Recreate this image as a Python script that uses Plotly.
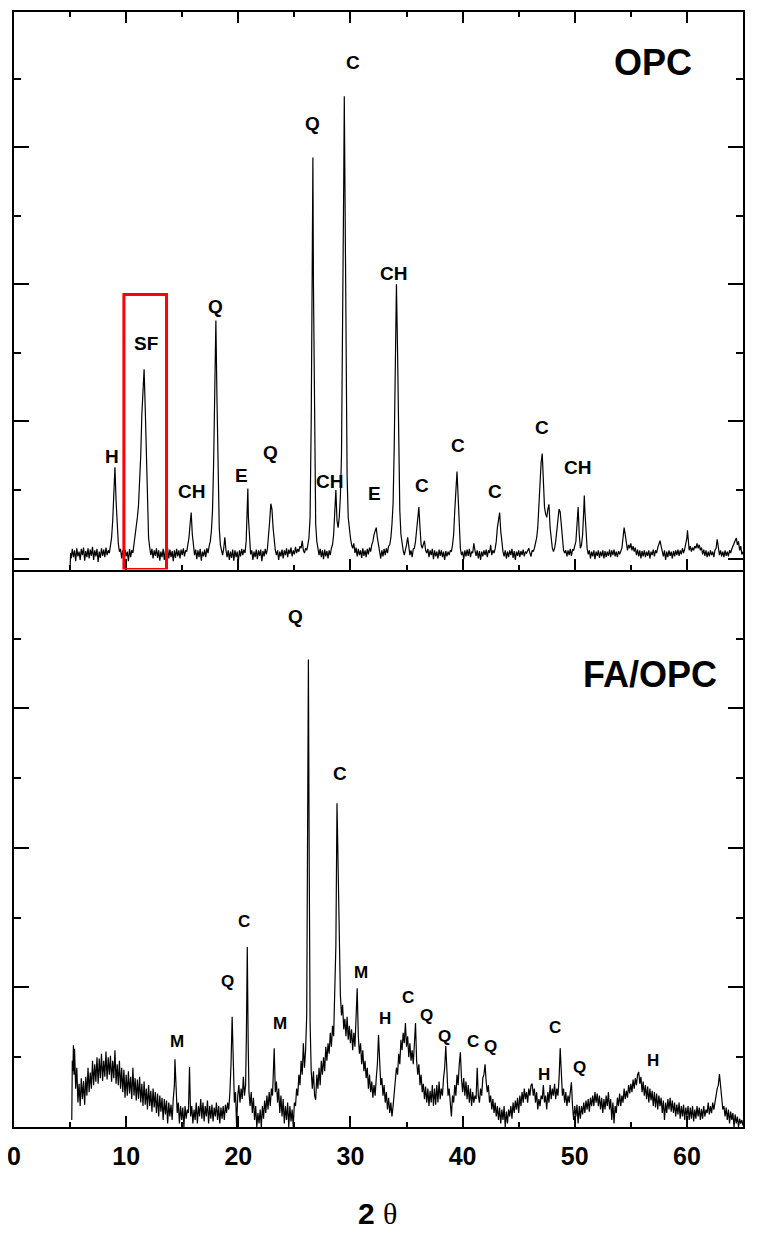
import plotly.graph_objects as go
from plotly.subplots import make_subplots

# OPC scan, (2theta, intensity in arbitrary units)
opc_scan = [
    (5.0, -0.13), (5.05, 0.08), (5.1, 0.0), (5.2, 0.14), (5.3, 0.02), (5.4, 0.12), (5.5, -0.04),
    (5.6, 0.15), (5.7, 0.03), (5.8, 0.1), (5.9, -0.02), (6.0, 0.14), (6.1, 0.05), (6.2, 0.16),
    (6.3, -0.03), (6.4, 0.11), (6.5, 0.02), (6.6, 0.15), (6.7, 0.0), (6.8, 0.13), (6.9, 0.04),
    (7.0, 0.17), (7.1, -0.02), (7.2, 0.12), (7.3, 0.03), (7.4, 0.14), (7.5, -0.05), (7.6, 0.1),
    (7.7, 0.01), (7.8, 0.15), (7.9, 0.04), (8.0, 0.13), (8.1, 0.02), (8.2, 0.16), (8.3, 0.05),
    (8.4, 0.12), (8.5, 0.08), (8.6, 0.2), (8.7, 0.3), (8.8, 0.55), (8.9, 0.9), (9.0, 1.33),
    (9.1, 0.85), (9.2, 0.4), (9.3, 0.22), (9.4, 0.1), (9.5, 0.14), (9.6, 0.0), (9.7, 0.12),
    (9.8, -0.02), (9.9, 0.13), (10.0, 0.03), (10.1, 0.1), (10.2, -0.04), (10.3, 0.14), (10.4, 0.02),
    (10.5, 0.12), (10.6, 0.08), (10.7, 0.2), (10.8, 0.3), (10.9, 0.45), (11.0, 0.6), (11.1, 0.77),
    (11.2, 1.1), (11.3, 1.5), (11.4, 2.1), (11.5, 2.5), (11.6, 2.76), (11.7, 2.2), (11.8, 1.4),
    (11.9, 0.7), (12.0, 0.3), (12.1, 0.16), (12.2, 0.05), (12.3, 0.14), (12.4, 0.0), (12.5, 0.12),
    (12.6, 0.04), (12.7, 0.15), (12.8, 0.01), (12.9, 0.12), (13.0, -0.03), (13.1, 0.1), (13.2, 0.02),
    (13.3, 0.14), (13.4, -0.02), (13.5, 0.12), (13.6, 0.03), (13.7, 0.15), (13.8, 0.0), (13.9, 0.13),
    (14.0, 0.02), (14.1, 0.11), (14.2, -0.04), (14.3, 0.12), (14.4, 0.01), (14.5, 0.14), (14.6, 0.03),
    (14.7, 0.12), (14.8, 0.0), (14.9, 0.13), (15.0, 0.05), (15.1, 0.15), (15.2, 0.03), (15.3, 0.12),
    (15.4, 0.1), (15.5, 0.2), (15.6, 0.3), (15.7, 0.5), (15.8, 0.67), (15.9, 0.35), (16.0, 0.15),
    (16.1, 0.05), (16.2, 0.13), (16.3, -0.01), (16.4, 0.12), (16.5, 0.02), (16.6, 0.14), (16.7, -0.03),
    (16.8, 0.1), (16.9, 0.03), (17.0, 0.13), (17.1, 0.02), (17.2, 0.15), (17.3, 0.08), (17.4, 0.18),
    (17.5, 0.25), (17.6, 0.4), (17.7, 0.7), (17.8, 1.4), (17.9, 2.4), (18.0, 3.47), (18.1, 2.3),
    (18.2, 1.1), (18.3, 0.45), (18.4, 0.2), (18.5, 0.12), (18.6, 0.05), (18.7, 0.15), (18.8, 0.31),
    (18.9, 0.12), (19.0, 0.02), (19.1, 0.12), (19.2, -0.02), (19.3, 0.1), (19.4, 0.01), (19.5, 0.13),
    (19.6, -0.03), (19.7, 0.12), (19.8, 0.02), (19.9, 0.1), (20.0, -0.05), (20.1, 0.12), (20.2, 0.03),
    (20.3, 0.14), (20.4, 0.05), (20.5, 0.13), (20.6, 0.08), (20.7, 0.25), (20.8, 0.7), (20.85, 1.02),
    (20.9, 0.6), (21.0, 0.25), (21.1, 0.06), (21.2, 0.12), (21.3, -0.02), (21.4, 0.1), (21.5, 0.02),
    (21.6, 0.13), (21.7, -0.01), (21.8, 0.12), (21.9, 0.04), (22.0, 0.13), (22.1, -0.04), (22.2, 0.11),
    (22.3, 0.03), (22.4, 0.14), (22.5, 0.06), (22.6, 0.15), (22.7, 0.3), (22.8, 0.55), (22.9, 0.8),
    (23.0, 0.72), (23.1, 0.45), (23.2, 0.25), (23.3, 0.12), (23.4, 0.05), (23.5, 0.12), (23.6, -0.02),
    (23.7, 0.1), (23.8, 0.03), (23.9, 0.13), (24.0, 0.0), (24.1, 0.12), (24.2, 0.05), (24.3, 0.15),
    (24.4, 0.02), (24.5, 0.13), (24.6, 0.07), (24.7, 0.16), (24.8, 0.03), (24.9, 0.12), (25.0, 0.06),
    (25.1, 0.17), (25.2, 0.08), (25.3, 0.14), (25.4, 0.1), (25.5, 0.18), (25.6, 0.15), (25.7, 0.26),
    (25.8, 0.12), (25.9, 0.08), (26.0, 0.15), (26.1, 0.12), (26.2, 0.2), (26.3, 0.3), (26.4, 0.6),
    (26.5, 2.0), (26.6, 4.5), (26.65, 5.85), (26.7, 4.0), (26.8, 1.5), (26.9, 0.5), (27.0, 0.25),
    (27.1, 0.12), (27.2, 0.05), (27.3, 0.14), (27.4, 0.02), (27.5, 0.12), (27.6, -0.01), (27.7, 0.13),
    (27.8, 0.03), (27.9, 0.11), (28.0, 0.0), (28.1, 0.12), (28.2, 0.05), (28.3, 0.15), (28.4, 0.2),
    (28.5, 0.35), (28.6, 0.6), (28.7, 1.0), (28.8, 0.55), (28.9, 0.45), (29.0, 0.6), (29.1, 0.9),
    (29.2, 1.5), (29.3, 3.0), (29.4, 5.5), (29.45, 6.74), (29.5, 5.8), (29.6, 3.0), (29.7, 1.2),
    (29.8, 0.6), (29.9, 0.4), (30.0, 0.3), (30.1, 0.2), (30.2, 0.15), (30.3, 0.22), (30.4, 0.08),
    (30.5, 0.16), (30.6, 0.03), (30.7, 0.14), (30.8, 0.05), (30.9, 0.12), (31.0, 0.01), (31.1, 0.15),
    (31.2, 0.04), (31.3, 0.12), (31.4, 0.02), (31.5, 0.14), (31.6, 0.06), (31.7, 0.16), (31.8, 0.1),
    (31.9, 0.2), (32.0, 0.25), (32.1, 0.35), (32.2, 0.4), (32.3, 0.45), (32.4, 0.3), (32.5, 0.15),
    (32.6, 0.1), (32.7, 0.0), (32.8, 0.12), (32.9, 0.03), (33.0, 0.14), (33.1, 0.05), (33.2, 0.15),
    (33.3, 0.08), (33.4, 0.18), (33.5, 0.2), (33.6, 0.3), (33.7, 0.5), (33.8, 0.8), (33.9, 1.6),
    (34.0, 2.8), (34.1, 4.0), (34.2, 3.0), (34.3, 1.6), (34.4, 0.7), (34.5, 0.35), (34.6, 0.2),
    (34.7, 0.12), (34.8, 0.05), (34.9, 0.12), (35.0, 0.2), (35.1, 0.31), (35.2, 0.15), (35.3, 0.05),
    (35.4, 0.12), (35.5, 0.02), (35.6, 0.14), (35.7, 0.15), (35.8, 0.25), (35.9, 0.4), (36.0, 0.6),
    (36.1, 0.75), (36.2, 0.45), (36.3, 0.2), (36.4, 0.15), (36.5, 0.2), (36.6, 0.26), (36.7, 0.12),
    (36.8, 0.08), (36.9, 0.14), (37.0, 0.02), (37.1, 0.12), (37.2, 0.05), (37.3, 0.14), (37.4, -0.01),
    (37.5, 0.12), (37.6, 0.03), (37.7, 0.1), (37.8, 0.0), (37.9, 0.13), (38.0, 0.04), (38.1, 0.12),
    (38.2, 0.02), (38.3, 0.1), (38.4, -0.02), (38.5, 0.11), (38.6, 0.03), (38.7, 0.1), (38.8, 0.05),
    (38.9, 0.12), (39.0, 0.1), (39.1, 0.2), (39.2, 0.35), (39.3, 0.7), (39.4, 1.1), (39.5, 1.27),
    (39.6, 0.9), (39.7, 0.4), (39.8, 0.15), (39.9, 0.05), (40.0, 0.1), (40.1, -0.01), (40.2, 0.12),
    (40.3, 0.03), (40.4, 0.13), (40.5, 0.04), (40.6, 0.14), (40.7, 0.02), (40.8, 0.1), (40.9, 0.08),
    (41.0, 0.22), (41.1, 0.12), (41.2, 0.04), (41.3, 0.12), (41.4, 0.0), (41.5, 0.11), (41.6, -0.02),
    (41.7, 0.1), (41.8, 0.03), (41.9, 0.12), (42.0, 0.05), (42.1, 0.13), (42.2, 0.02), (42.3, 0.12),
    (42.4, 0.08), (42.5, 0.2), (42.6, 0.05), (42.7, 0.12), (42.8, 0.08), (42.9, 0.14), (43.0, 0.25),
    (43.1, 0.45), (43.2, 0.6), (43.3, 0.67), (43.4, 0.4), (43.5, 0.2), (43.6, 0.1), (43.7, 0.03),
    (43.8, 0.12), (43.9, 0.0), (44.0, 0.1), (44.1, 0.02), (44.2, 0.12), (44.3, 0.05), (44.4, 0.14),
    (44.5, 0.01), (44.6, 0.11), (44.7, -0.02), (44.8, 0.1), (44.9, 0.04), (45.0, 0.12), (45.1, 0.02),
    (45.2, 0.11), (45.3, 0.05), (45.4, 0.13), (45.5, 0.03), (45.6, 0.1), (45.7, 0.08), (45.8, 0.12),
    (45.9, 0.15), (46.0, 0.08), (46.1, 0.03), (46.2, 0.12), (46.3, 0.1), (46.4, 0.15), (46.5, 0.22),
    (46.6, 0.3), (46.7, 0.45), (46.8, 0.8), (46.9, 1.1), (47.0, 1.4), (47.1, 1.53), (47.2, 1.1),
    (47.3, 0.75), (47.4, 0.65), (47.5, 0.6), (47.6, 0.72), (47.7, 0.79), (47.8, 0.45), (47.9, 0.25),
    (48.0, 0.15), (48.1, 0.1), (48.2, 0.15), (48.3, 0.25), (48.4, 0.4), (48.5, 0.6), (48.6, 0.72),
    (48.7, 0.68), (48.8, 0.45), (48.9, 0.25), (49.0, 0.12), (49.1, 0.08), (49.2, 0.12), (49.3, 0.03),
    (49.4, 0.12), (49.5, 0.05), (49.6, 0.14), (49.7, 0.04), (49.8, 0.13), (49.9, 0.12), (50.0, 0.2),
    (50.1, 0.25), (50.2, 0.5), (50.3, 0.75), (50.4, 0.35), (50.5, 0.15), (50.6, 0.2), (50.7, 0.35),
    (50.8, 0.7), (50.85, 0.92), (50.9, 0.7), (51.0, 0.35), (51.1, 0.15), (51.2, 0.06), (51.3, 0.12),
    (51.4, 0.0), (51.5, 0.1), (51.6, 0.03), (51.7, 0.12), (51.8, -0.01), (51.9, 0.1), (52.0, 0.04),
    (52.1, 0.12), (52.2, 0.01), (52.3, 0.1), (52.4, 0.03), (52.5, 0.12), (52.6, 0.0), (52.7, 0.11),
    (52.8, 0.02), (52.9, 0.1), (53.0, 0.04), (53.1, 0.13), (53.2, 0.02), (53.3, 0.12), (53.4, 0.05),
    (53.5, 0.13), (53.6, 0.03), (53.7, 0.1), (53.8, 0.02), (53.9, 0.11), (54.0, 0.06), (54.1, 0.12),
    (54.2, 0.15), (54.3, 0.3), (54.4, 0.45), (54.5, 0.35), (54.6, 0.2), (54.7, 0.12), (54.8, 0.2),
    (54.9, 0.15), (55.0, 0.22), (55.1, 0.12), (55.2, 0.18), (55.3, 0.1), (55.4, 0.16), (55.5, 0.05),
    (55.6, 0.13), (55.7, 0.03), (55.8, 0.12), (55.9, 0.0), (56.0, 0.11), (56.1, 0.03), (56.2, 0.12),
    (56.3, 0.02), (56.4, 0.1), (56.5, 0.04), (56.6, 0.12), (56.7, 0.0), (56.8, 0.1), (56.9, 0.05),
    (57.0, 0.13), (57.1, 0.03), (57.2, 0.12), (57.3, 0.08), (57.4, 0.16), (57.5, 0.2), (57.6, 0.26),
    (57.7, 0.18), (57.8, 0.08), (57.9, 0.03), (58.0, 0.12), (58.1, -0.02), (58.2, 0.1), (58.3, 0.02),
    (58.4, 0.12), (58.5, 0.04), (58.6, 0.1), (58.7, 0.0), (58.8, 0.11), (58.9, 0.03), (59.0, 0.12),
    (59.1, 0.05), (59.2, 0.13), (59.3, 0.04), (59.4, 0.12), (59.5, 0.06), (59.6, 0.15), (59.7, 0.08),
    (59.8, 0.14), (59.9, 0.2), (60.0, 0.3), (60.05, 0.41), (60.1, 0.25), (60.2, 0.12), (60.3, 0.18),
    (60.4, 0.1), (60.5, 0.16), (60.6, 0.12), (60.7, 0.18), (60.8, 0.15), (60.9, 0.22), (61.0, 0.15),
    (61.1, 0.2), (61.2, 0.12), (61.3, 0.16), (61.4, 0.06), (61.5, 0.13), (61.6, 0.04), (61.7, 0.12),
    (61.8, 0.02), (61.9, 0.1), (62.0, 0.03), (62.1, 0.12), (62.2, 0.05), (62.3, 0.1), (62.4, 0.02),
    (62.5, 0.12), (62.6, 0.15), (62.7, 0.28), (62.8, 0.12), (62.9, 0.05), (63.0, 0.12), (63.1, 0.03),
    (63.2, 0.1), (63.3, 0.02), (63.4, 0.12), (63.5, 0.04), (63.6, 0.1), (63.7, 0.03), (63.8, 0.12),
    (63.9, 0.08), (64.0, 0.14), (64.1, 0.18), (64.2, 0.22), (64.3, 0.26), (64.4, 0.3), (64.5, 0.2),
    (64.6, 0.25), (64.7, 0.12), (64.8, 0.18), (64.9, 0.06), (65.0, 0.1),
]

# FA/OPC scan
fa_scan = [
    (5.15, 0.1), (5.2, 0.95), (5.25, 0.8), (5.3, 1.17), (5.35, 0.75), (5.4, 1.12), (5.5, 0.55),
    (5.6, 0.85), (5.7, 0.35), (5.8, 0.62), (5.9, 0.3), (6.0, 0.7), (6.1, 0.4), (6.2, 0.66),
    (6.3, 0.32), (6.4, 0.72), (6.5, 0.45), (6.6, 0.85), (6.7, 0.5), (6.8, 0.78), (6.9, 0.55),
    (7.0, 0.95), (7.1, 0.6), (7.2, 0.9), (7.3, 0.65), (7.4, 1.0), (7.5, 0.62), (7.6, 0.98),
    (7.7, 0.7), (7.8, 1.05), (7.9, 0.66), (8.0, 0.95), (8.1, 0.72), (8.2, 1.08), (8.3, 0.68),
    (8.4, 1.0), (8.5, 0.75), (8.6, 1.02), (8.7, 0.65), (8.8, 0.95), (8.9, 0.7), (9.0, 1.1),
    (9.1, 0.62), (9.2, 0.9), (9.3, 0.6), (9.4, 0.95), (9.5, 0.55), (9.6, 0.85), (9.7, 0.5),
    (9.8, 0.82), (9.9, 0.42), (10.0, 0.75), (10.1, 0.45), (10.2, 0.8), (10.3, 0.48), (10.4, 0.72),
    (10.5, 0.4), (10.6, 0.85), (10.7, 0.45), (10.8, 0.7), (10.9, 0.38), (11.0, 0.68), (11.1, 0.4),
    (11.2, 0.72), (11.3, 0.35), (11.4, 0.62), (11.5, 0.3), (11.6, 0.65), (11.7, 0.32), (11.8, 0.55),
    (11.9, 0.25), (12.0, 0.6), (12.1, 0.3), (12.2, 0.52), (12.3, 0.22), (12.4, 0.55), (12.5, 0.28),
    (12.6, 0.5), (12.7, 0.2), (12.8, 0.48), (12.9, 0.15), (13.0, 0.45), (13.1, 0.22), (13.2, 0.42),
    (13.3, 0.1), (13.4, 0.4), (13.5, 0.18), (13.6, 0.38), (13.7, 0.05), (13.8, 0.35), (13.9, 0.15),
    (14.0, 0.32), (14.1, 0.1), (14.2, 0.4), (14.3, 0.6), (14.35, 0.97), (14.45, 0.4), (14.55, 0.2),
    (14.65, 0.35), (14.75, 0.05), (14.85, 0.3), (14.95, 0.1), (15.05, 0.28), (15.15, 0.0), (15.25, 0.3),
    (15.35, 0.12), (15.45, 0.25), (15.55, 0.2), (15.65, 0.86), (15.75, 0.15), (15.85, 0.3), (15.95, 0.05),
    (16.05, 0.25), (16.15, 0.1), (16.25, 0.35), (16.35, 0.05), (16.45, 0.3), (16.55, 0.15), (16.65, 0.4),
    (16.75, 0.12), (16.85, 0.35), (16.95, 0.08), (17.05, 0.3), (17.15, 0.15), (17.25, 0.38), (17.35, 0.05),
    (17.45, 0.3), (17.55, 0.12), (17.65, 0.32), (17.75, 0.08), (17.85, 0.28), (17.95, 0.15), (18.05, 0.35),
    (18.15, 0.1), (18.25, 0.3), (18.35, 0.05), (18.45, 0.28), (18.55, 0.12), (18.65, 0.3), (18.75, 0.1),
    (18.85, 0.32), (18.95, 0.2), (19.05, 0.35), (19.15, 0.25), (19.25, 0.5), (19.35, 0.9), (19.45, 1.58),
    (19.55, 0.7), (19.65, 0.35), (19.75, 0.5), (19.85, 0.0), (19.95, 0.45), (20.05, 0.6), (20.15, 0.35),
    (20.25, 0.55), (20.35, 0.4), (20.45, 0.72), (20.55, 0.45), (20.65, 0.6), (20.72, 1.3), (20.8, 2.58),
    (20.88, 1.2), (20.95, 0.5), (21.05, 0.3), (21.15, 0.5), (21.25, 0.2), (21.35, 0.42), (21.45, 0.1),
    (21.55, 0.3), (21.65, 0.0), (21.75, 0.2), (21.85, 0.05), (21.95, 0.25), (22.05, 0.0), (22.15, 0.3),
    (22.25, 0.12), (22.35, 0.38), (22.45, 0.2), (22.55, 0.45), (22.65, 0.25), (22.75, 0.5), (22.85, 0.3),
    (22.95, 0.55), (23.05, 0.45), (23.15, 0.8), (23.2, 1.13), (23.3, 0.5), (23.4, 0.65), (23.5, 0.35),
    (23.6, 0.55), (23.7, 0.2), (23.8, 0.45), (23.9, 0.15), (24.0, 0.4), (24.1, 0.05), (24.2, 0.3),
    (24.3, 0.1), (24.4, 0.35), (24.5, 0.0), (24.6, 0.3), (24.7, 0.08), (24.8, 0.25), (24.9, 0.0),
    (25.0, 0.35), (25.1, 0.3), (25.2, 0.55), (25.3, 0.45), (25.4, 0.75), (25.5, 0.6), (25.6, 0.95),
    (25.7, 0.75), (25.8, 1.2), (25.9, 0.85), (26.0, 1.1), (26.1, 1.6), (26.18, 3.5), (26.25, 6.7),
    (26.32, 3.8), (26.4, 1.5), (26.5, 0.8), (26.6, 0.55), (26.7, 0.8), (26.8, 0.45), (26.9, 0.39),
    (27.0, 0.75), (27.1, 0.55), (27.2, 0.85), (27.3, 0.6), (27.4, 0.95), (27.5, 0.75), (27.6, 1.0),
    (27.7, 0.8), (27.8, 1.15), (27.9, 0.95), (28.0, 1.2), (28.1, 1.05), (28.2, 1.35), (28.3, 1.15),
    (28.4, 1.45), (28.5, 1.3), (28.6, 1.8), (28.7, 2.6), (28.8, 4.64), (28.9, 3.6), (29.0, 2.4),
    (29.1, 1.9), (29.2, 1.6), (29.3, 1.75), (29.4, 1.4), (29.5, 1.55), (29.6, 1.3), (29.7, 1.58),
    (29.8, 1.25), (29.9, 1.45), (30.0, 1.2), (30.1, 1.4), (30.2, 1.1), (30.3, 1.35), (30.4, 1.15),
    (30.5, 1.5), (30.6, 1.99), (30.7, 1.3), (30.8, 1.05), (30.9, 1.2), (31.0, 0.9), (31.1, 1.1),
    (31.2, 0.8), (31.3, 0.95), (31.4, 0.7), (31.5, 0.85), (31.6, 0.55), (31.7, 0.75), (31.8, 0.5),
    (31.9, 0.65), (32.0, 0.42), (32.1, 0.6), (32.2, 0.45), (32.3, 0.7), (32.4, 0.9), (32.5, 1.32),
    (32.6, 0.85), (32.7, 0.6), (32.8, 0.7), (32.9, 0.45), (33.0, 0.6), (33.1, 0.35), (33.2, 0.5),
    (33.3, 0.25), (33.4, 0.42), (33.5, 0.2), (33.6, 0.35), (33.7, 0.15), (33.8, 0.3), (33.9, 0.45),
    (34.0, 0.6), (34.1, 0.85), (34.2, 0.75), (34.3, 1.05), (34.4, 0.9), (34.5, 1.25), (34.6, 1.1),
    (34.7, 1.35), (34.8, 1.2), (34.9, 1.49), (35.0, 1.15), (35.1, 1.3), (35.2, 1.0), (35.3, 1.2),
    (35.4, 0.95), (35.5, 1.1), (35.6, 0.9), (35.7, 1.2), (35.8, 1.49), (35.9, 0.95), (36.0, 0.75),
    (36.1, 0.9), (36.2, 0.6), (36.3, 0.75), (36.4, 0.5), (36.5, 0.62), (36.6, 0.4), (36.7, 0.58),
    (36.8, 0.35), (36.9, 0.55), (37.0, 0.3), (37.1, 0.52), (37.2, 0.35), (37.3, 0.6), (37.4, 0.3),
    (37.5, 0.55), (37.6, 0.32), (37.7, 0.6), (37.8, 0.35), (37.9, 0.65), (38.0, 0.4), (38.1, 0.55),
    (38.2, 0.45), (38.3, 0.7), (38.4, 0.85), (38.5, 1.16), (38.6, 0.7), (38.7, 0.45), (38.8, 0.55),
    (38.9, 0.3), (39.0, 0.15), (39.1, 0.45), (39.2, 0.35), (39.3, 0.6), (39.4, 0.45), (39.5, 0.75),
    (39.6, 0.6), (39.7, 0.9), (39.8, 1.07), (39.9, 0.7), (40.0, 0.5), (40.1, 0.7), (40.2, 0.45),
    (40.3, 0.65), (40.4, 0.4), (40.5, 0.6), (40.6, 0.35), (40.7, 0.55), (40.8, 0.3), (40.9, 0.5),
    (41.0, 0.35), (41.1, 0.45), (41.2, 0.4), (41.3, 0.85), (41.4, 0.45), (41.5, 0.35), (41.6, 0.55),
    (41.7, 0.45), (41.8, 0.7), (41.9, 0.75), (42.0, 0.9), (42.1, 0.65), (42.2, 0.5), (42.3, 0.6),
    (42.4, 0.35), (42.5, 0.45), (42.6, 0.25), (42.7, 0.4), (42.8, 0.2), (42.9, 0.35), (43.0, 0.15),
    (43.1, 0.3), (43.2, 0.1), (43.3, 0.28), (43.4, 0.05), (43.5, 0.25), (43.6, 0.1), (43.7, 0.3),
    (43.8, 0.0), (43.9, 0.22), (44.0, 0.05), (44.1, 0.25), (44.2, 0.15), (44.3, 0.3), (44.4, 0.12),
    (44.5, 0.35), (44.6, 0.2), (44.7, 0.38), (44.8, 0.25), (44.9, 0.42), (45.0, 0.2), (45.1, 0.45),
    (45.2, 0.3), (45.3, 0.5), (45.4, 0.35), (45.5, 0.55), (45.6, 0.4), (45.7, 0.5), (45.8, 0.35),
    (45.9, 0.55), (46.0, 0.45), (46.1, 0.6), (46.2, 0.62), (46.3, 0.45), (46.4, 0.55), (46.5, 0.35),
    (46.6, 0.5), (46.7, 0.25), (46.8, 0.4), (46.9, 0.3), (47.0, 0.45), (47.1, 0.4), (47.2, 0.6),
    (47.3, 0.35), (47.4, 0.45), (47.5, 0.25), (47.6, 0.5), (47.7, 0.35), (47.8, 0.6), (47.9, 0.4),
    (48.0, 0.55), (48.1, 0.45), (48.2, 0.62), (48.3, 0.4), (48.4, 0.55), (48.5, 0.45), (48.6, 0.7),
    (48.7, 1.13), (48.8, 0.65), (48.9, 0.45), (49.0, 0.55), (49.1, 0.35), (49.2, 0.5), (49.3, 0.3),
    (49.4, 0.45), (49.5, 0.35), (49.6, 0.5), (49.7, 0.64), (49.8, 0.3), (49.9, 0.1), (50.0, 0.3),
    (50.1, 0.15), (50.2, 0.32), (50.3, 0.05), (50.4, 0.3), (50.5, 0.12), (50.6, 0.3), (50.7, 0.18),
    (50.8, 0.35), (50.9, 0.2), (51.0, 0.38), (51.1, 0.25), (51.2, 0.4), (51.3, 0.22), (51.4, 0.42),
    (51.5, 0.3), (51.6, 0.45), (51.7, 0.3), (51.8, 0.5), (51.9, 0.35), (52.0, 0.48), (52.1, 0.3),
    (52.2, 0.45), (52.3, 0.25), (52.4, 0.42), (52.5, 0.2), (52.6, 0.4), (52.7, 0.25), (52.8, 0.45),
    (52.9, 0.3), (53.0, 0.5), (53.1, 0.25), (53.2, 0.4), (53.3, 0.1), (53.4, 0.35), (53.5, 0.05),
    (53.6, 0.3), (53.7, 0.2), (53.8, 0.42), (53.9, 0.3), (54.0, 0.48), (54.1, 0.3), (54.2, 0.45),
    (54.3, 0.35), (54.4, 0.55), (54.5, 0.4), (54.6, 0.52), (54.7, 0.42), (54.8, 0.6), (54.9, 0.48),
    (55.0, 0.62), (55.1, 0.5), (55.2, 0.68), (55.3, 0.55), (55.4, 0.7), (55.5, 0.6), (55.6, 0.75),
    (55.7, 0.79), (55.8, 0.62), (55.9, 0.72), (56.0, 0.5), (56.1, 0.65), (56.2, 0.45), (56.3, 0.6),
    (56.4, 0.4), (56.5, 0.58), (56.6, 0.35), (56.7, 0.55), (56.8, 0.38), (56.9, 0.52), (57.0, 0.3),
    (57.1, 0.5), (57.2, 0.28), (57.3, 0.48), (57.4, 0.25), (57.5, 0.45), (57.6, 0.3), (57.7, 0.42),
    (57.8, 0.2), (57.9, 0.38), (58.0, 0.1), (58.1, 0.35), (58.2, 0.2), (58.3, 0.4), (58.4, 0.25),
    (58.5, 0.42), (58.6, 0.22), (58.7, 0.38), (58.8, 0.2), (58.9, 0.35), (59.0, 0.15), (59.1, 0.32),
    (59.2, 0.18), (59.3, 0.35), (59.4, 0.12), (59.5, 0.3), (59.6, 0.15), (59.7, 0.32), (59.8, 0.1),
    (59.9, 0.28), (60.0, 0.15), (60.1, 0.3), (60.2, 0.1), (60.3, 0.28), (60.4, 0.12), (60.5, 0.3),
    (60.6, 0.08), (60.7, 0.25), (60.8, 0.12), (60.9, 0.3), (61.0, 0.15), (61.1, 0.28), (61.2, 0.1),
    (61.3, 0.26), (61.4, 0.12), (61.5, 0.3), (61.6, 0.15), (61.7, 0.25), (61.8, 0.2), (61.9, 0.35),
    (62.0, 0.18), (62.1, 0.3), (62.2, 0.2), (62.3, 0.35), (62.4, 0.25), (62.5, 0.4), (62.6, 0.45),
    (62.7, 0.55), (62.8, 0.6), (62.9, 0.76), (63.0, 0.55), (63.1, 0.4), (63.2, 0.25), (63.3, 0.3),
    (63.4, 0.15), (63.5, 0.28), (63.6, 0.1), (63.7, 0.25), (63.8, 0.05), (63.9, 0.22), (64.0, 0.1),
    (64.1, 0.2), (64.2, 0.0), (64.3, 0.18), (64.4, 0.05), (64.5, 0.15), (64.6, 0.0), (64.7, 0.12),
    (64.8, 0.05), (64.9, 0.1), (65.0, 0.02),
]

# phase labels: (2theta, height, text)
opc_labels = [
    (8.75, 1.49, "H"), (11.8, 3.14, "SF"), (15.8, 0.98, "CH"), (18.0, 3.68, "Q"),
    (20.3, 1.21, "E"), (22.9, 1.55, "Q"), (26.6, 6.35, "Q"), (28.1, 1.12, "CH"),
    (30.2, 7.24, "C"), (32.1, 0.95, "E"), (33.8, 4.16, "CH"), (36.4, 1.07, "C"),
    (39.6, 1.65, "C"), (42.9, 0.98, "C"), (47.1, 1.91, "C"), (50.2, 1.33, "CH"),
]
fa_labels = [
    (14.5, 1.23, "M"), (19.0, 2.09, "Q"), (20.5, 2.94, "C"), (23.7, 1.49, "M"),
    (25.1, 7.31, "Q"), (29.1, 5.07, "C"), (30.9, 2.21, "M"), (33.1, 1.56, "H"),
    (35.1, 1.85, "C"), (36.8, 1.60, "Q"), (38.4, 1.29, "Q"), (40.9, 1.22, "C"),
    (42.5, 1.16, "Q"), (47.3, 0.75, "H"), (48.2, 1.42, "C"), (50.4, 0.85, "Q"),
    (57.0, 0.96, "H"),
]

# highlighted silica fume region (2theta from, to, height)
sf_box = (9.8, 13.6, 3.85)

FONT = "Liberation Sans, Arial, sans-serif"

fig = make_subplots(rows=2, cols=1, shared_xaxes=True, vertical_spacing=0)

for row, scan in ((1, opc_scan), (2, fa_scan)):
    xs, ys = zip(*scan)
    fig.add_trace(go.Scatter(x=xs, y=ys, mode="lines",
                             line=dict(color="black", width=1.2),
                             showlegend=False, hoverinfo="skip"), row=row, col=1)

for row, labels, size in ((1, opc_labels, 19), (2, fa_labels, 17)):
    for x, y, t in labels:
        big = t in ("Q", "C") and y > 4
        fig.add_annotation(x=x, y=y, text=f"<b>{t}</b>", showarrow=False,
                           font=dict(family=FONT, size=19 if big else size, color="black"),
                           row=row, col=1)

fig.add_annotation(x=57.0, y=7.24, text="<b>OPC</b>", showarrow=False,
                   font=dict(family=FONT, size=36, color="black"), row=1, col=1)
fig.add_annotation(x=56.7, y=6.48, text="<b>FA/OPC</b>", showarrow=False,
                   font=dict(family=FONT, size=36, color="black"), row=2, col=1)

fig.add_shape(type="rect", x0=sf_box[0], x1=sf_box[1], y0=-0.16, y1=sf_box[2],
              line=dict(color="#ff0000", width=3), row=1, col=1)

axis_common = dict(showline=True, linecolor="black", linewidth=2,
                   ticks="inside", tickwidth=2, tickcolor="black", showgrid=False, zeroline=False)

fig.update_xaxes(range=[0, 65], dtick=10, tick0=0, ticklen=11, mirror="ticks",
                 minor=dict(dtick=5, tick0=0, ticklen=5, ticks="inside", tickwidth=2, tickcolor="black"),
                 tickfont=dict(family=FONT, size=25, color="black", weight="bold"),
                 ticklabelstandoff=6, ticklabeloverflow="allow", automargin=False, **axis_common)
# the divider is drawn once, by the upper panel
fig.update_xaxes(mirror=False, row=2, col=1)
fig.update_yaxes(showticklabels=False, dtick=2, tick0=0, ticklen=15, mirror="ticks",
                 minor=dict(dtick=1, tick0=0, ticklen=7, ticks="inside", tickwidth=2, tickcolor="black"),
                 automargin=False, **axis_common)
fig.update_yaxes(range=[-0.16, 7.97], row=1, col=1)
fig.update_yaxes(range=[0, 7.99], row=2, col=1)

fig.add_annotation(xref="paper", yref="paper", x=0.498, y=-0.078, yanchor="middle",
                   showarrow=False,
                   text="<b>2</b> <span style='font-family:Liberation Serif, Times New Roman, serif'>θ</span>",
                   font=dict(family=FONT, size=30, color="black"))

fig.update_layout(width=744, height=1223,
                  margin=dict(l=6, r=9, t=4, b=104, autoexpand=False),
                  plot_bgcolor="white", paper_bgcolor="white")

fig.write_html("out.html")
